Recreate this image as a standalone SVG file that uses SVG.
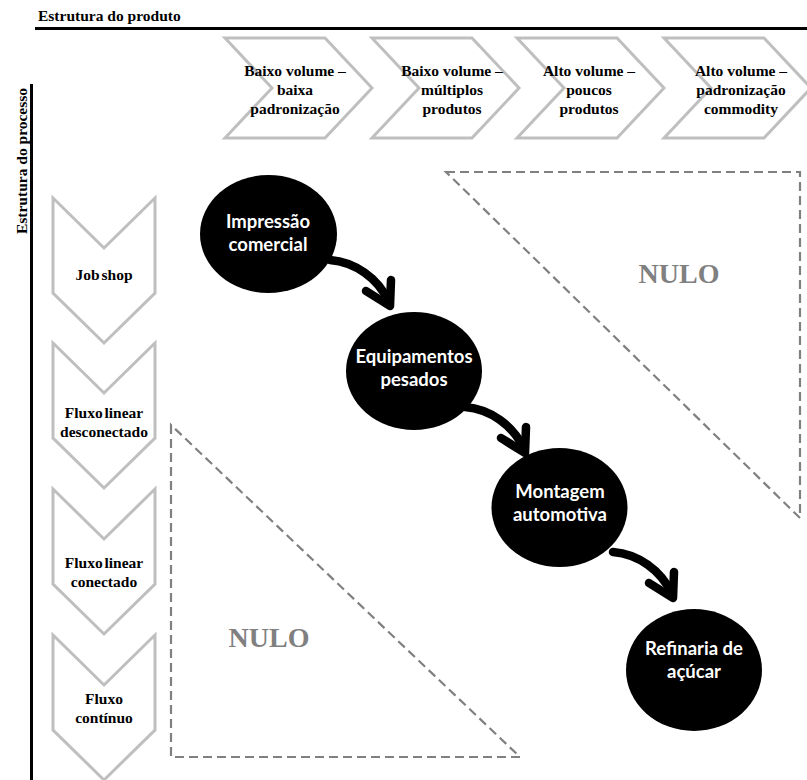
<svg xmlns="http://www.w3.org/2000/svg" width="807" height="780" viewBox="0 0 807 780">
<style>
.hdr{font-family:"Liberation Serif","Times New Roman",serif;font-weight:bold;font-size:15.5px;fill:#000}
.lbl{font-family:"Liberation Serif","Times New Roman",serif;font-weight:bold;font-size:15.5px;fill:#000;text-anchor:middle}
.chev{fill:#fff;stroke:#bfbfbf;stroke-width:3;stroke-linejoin:miter}
.node{fill:#000}
.ntx{font-family:Lato,"Open Sans",sans-serif;font-weight:bold;font-size:18.5px;fill:#fff;text-anchor:middle}
.nulo{fill:none;stroke:#808080;stroke-width:2.2;stroke-dasharray:9 5}
.nulotx{font-family:"Liberation Serif","Times New Roman",serif;font-weight:bold;font-size:28px;fill:#808080;text-anchor:middle}
.arr{fill:none;stroke:#000;stroke-width:8.5;stroke-linecap:round;stroke-linejoin:round}
</style>
<rect width="807" height="780" fill="#fff"/>

<g id="axes">
<text class="hdr" x="38" y="21">Estrutura do produto</text>
<line x1="35" y1="28.5" x2="807" y2="28.5" stroke="#000" stroke-width="3"/>
<text class="hdr" text-anchor="middle" transform="translate(27,161) rotate(-90)">Estrutura do processo</text>
<line x1="31.5" y1="84" x2="31.5" y2="780" stroke="#000" stroke-width="3"/>
</g>

<g id="nulo-top">
<path class="nulo" d="M446 172 L800 172 L800 518 Z"/>
<text class="nulotx" x="679" y="283">NULO</text>
</g>
<g id="nulo-bottom">
<path class="nulo" d="M171 425 L171 757 L520 757 Z"/>
<text class="nulotx" x="269" y="647">NULO</text>
</g>

<g id="col1">
<path class="chev" d="M225 38 L325 38 L372 88 L325 138 L225 138 L272 88 Z"/>
<text class="lbl" x="295" y="76">Baixo volume –</text>
<text class="lbl" x="295" y="95">baixa</text>
<text class="lbl" x="295" y="114">padronização</text>
</g>
<g id="col2">
<path class="chev" d="M372 38 L472 38 L519 88 L472 138 L372 138 L419 88 Z"/>
<text class="lbl" x="452" y="76">Baixo volume –</text>
<text class="lbl" x="452" y="95">múltiplos</text>
<text class="lbl" x="452" y="114">produtos</text>
</g>
<g id="col3">
<path class="chev" d="M517 38 L617 38 L664 88 L617 138 L517 138 L564 88 Z"/>
<text class="lbl" x="589" y="76">Alto volume –</text>
<text class="lbl" x="589" y="95">poucos</text>
<text class="lbl" x="589" y="114">produtos</text>
</g>
<g id="col4">
<path class="chev" d="M664 38 L764 38 L811 88 L764 138 L664 138 L711 88 Z"/>
<text class="lbl" x="741" y="76">Alto volume –</text>
<text class="lbl" x="741" y="95">padronização</text>
<text class="lbl" x="741" y="114">commodity</text>
</g>

<g id="row1">
<path class="chev" d="M53 198 L104 248 L155 198 L155 293 L104 343 L53 293 Z"/>
<text class="lbl" x="104" y="280" word-spacing="-2">Job shop</text>
</g>
<g id="row2">
<path class="chev" d="M53 343 L104 393 L155 343 L155 438 L104 488 L53 438 Z"/>
<text class="lbl" x="104" y="418" word-spacing="-2">Fluxo linear</text>
<text class="lbl" x="104" y="437">desconectado</text>
</g>
<g id="row3">
<path class="chev" d="M53 489 L104 539 L155 489 L155 584 L104 634 L53 584 Z"/>
<text class="lbl" x="104" y="568" word-spacing="-2">Fluxo linear</text>
<text class="lbl" x="104" y="587">conectado</text>
</g>
<g id="row4">
<path class="chev" d="M53 635 L104 685 L155 635 L155 730 L104 780 L53 730 Z"/>
<text class="lbl" x="104" y="704">Fluxo</text>
<text class="lbl" x="104" y="723">contínuo</text>
</g>

<g id="n1">
<ellipse class="node" cx="268.5" cy="234" rx="68.5" ry="59"/>
<text class="ntx" x="268" y="228">Impressão</text>
<text class="ntx" x="268" y="251">comercial</text>
</g>
<g id="n2">
<ellipse class="node" cx="414" cy="371" rx="68" ry="59"/>
<text class="ntx" x="414" y="363">Equipamentos</text>
<text class="ntx" x="414" y="386">pesados</text>
</g>
<g id="n3">
<ellipse class="node" cx="559.5" cy="507.5" rx="68" ry="59.5"/>
<text class="ntx" x="560" y="498">Montagem</text>
<text class="ntx" x="560" y="521">automotiva</text>
</g>
<g id="n4">
<ellipse class="node" cx="694" cy="670" rx="68" ry="61"/>
<text class="ntx" x="694" y="655">Refinaria de</text>
<text class="ntx" x="694" y="678">açúcar</text>
</g>

<g id="connectors">
<path class="arr" d="M330 260 C355 262 378 278 389 302"/>
<path class="arr" d="M366 291 L390 306 L391 280"/>
<path class="arr" d="M465 407 C490 409 513 425 524 449"/>
<path class="arr" d="M501 438 L525 453 L526 427"/>
<path class="arr" d="M613 552 C638 554 661 570 672 594"/>
<path class="arr" d="M649 583 L673 598 L674 572"/>
</g>
</svg>
